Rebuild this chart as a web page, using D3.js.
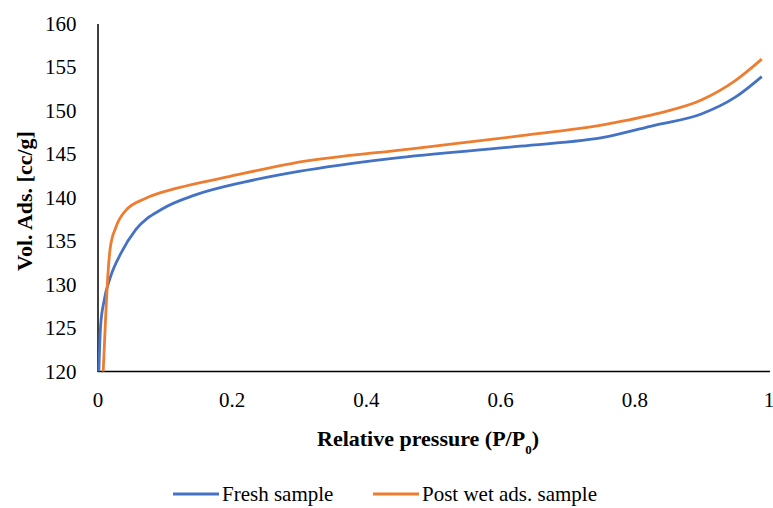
<!DOCTYPE html>
<html>
<head>
<meta charset="utf-8">
<script src="https://cdn.jsdelivr.net/npm/d3@7"></script>
<style>
  body { margin: 0; background: #fff; }
  text { font-family: "Liberation Serif", serif; fill: #000; }
</style>
</head>
<body>
<div id="chart"></div>
<script>
// Fresh sample isotherm
const freshP = [0.002, 0.0045, 0.01, 0.019, 0.035, 0.057, 0.097, 0.146, 0.22, 0.3, 0.44, 0.63, 0.76, 0.83, 0.9, 0.95, 0.99];
const freshV = [120, 125.1, 128.2, 130.8, 133.6, 136.3, 138.7, 140.3, 141.8, 143.0, 144.5, 145.9, 147.0, 148.3, 149.6, 151.5, 153.9];
// Post wet ads. sample isotherm
const wetP = [0.0085, 0.012, 0.0154, 0.019, 0.027, 0.042, 0.072, 0.12, 0.196, 0.289, 0.468, 0.632, 0.757, 0.832, 0.9, 0.95, 0.99];
const wetV = [120, 126, 131, 134.2, 136.5, 138.5, 139.9, 141.1, 142.4, 143.9, 145.6, 147.1, 148.4, 149.6, 151.2, 153.4, 155.9];

const xTicks = [0, 0.2, 0.4, 0.6, 0.8, 1];
const yTicks = [120, 125, 130, 135, 140, 145, 150, 155, 160];

const series = [
  { name: "Fresh sample", color: "#4472C4", p: freshP, v: freshV },
  { name: "Post wet ads. sample", color: "#ED7D31", p: wetP, v: wetV }
];

const width = 773, height = 508;
const svg = d3.select("#chart").append("svg")
  .attr("width", width)
  .attr("height", height);

const x = d3.scaleLinear().domain([0, 1]).range([97.5, 768.5]);
const y = d3.scaleLinear().domain([120, 160]).range([371.5, 23.5]);

// axes
const xAxis = svg.append("g")
  .attr("transform", `translate(0,${y(120)})`)
  .call(d3.axisBottom(x).tickValues(xTicks).tickSize(0).tickPadding(21)
    .tickFormat(d => d === 0 || d === 1 ? d : d.toFixed(1)));
xAxis.select(".domain").attr("stroke", "#000").attr("stroke-width", 1.5).attr("d", `M${x(0)},0H770`);
xAxis.selectAll("text").style("font-size", "21px").attr("font-family", null);

const yAxis = svg.append("g")
  .attr("transform", `translate(${x(0)},0)`)
  .call(d3.axisLeft(y).tickValues(yTicks).tickSize(0).tickPadding(21));
yAxis.select(".domain").attr("stroke", "#000").attr("stroke-width", 1.5);
yAxis.selectAll("text").style("font-size", "21px").attr("font-family", null);

// lines
const line = d3.line()
  .x(d => x(d[0]))
  .y(d => y(d[1]))
  .curve(d3.curveMonotoneX);

series.forEach(s => {
  svg.append("path")
    .datum(s.p.map((p, i) => [p, s.v[i]]))
    .attr("fill", "none")
    .attr("stroke", s.color)
    .attr("stroke-width", 2.8)
    .attr("d", line);
});

// axis titles
const xt = svg.append("text")
  .attr("x", 428)
  .attr("y", 446)
  .attr("text-anchor", "middle")
  .style("font-size", "22px")
  .style("font-weight", "bold");
xt.append("tspan").text("Relative pressure (P/P");
xt.append("tspan").attr("baseline-shift", "sub").style("font-size", "13px").text("0");
xt.append("tspan").text(")");

svg.append("text")
  .attr("transform", "translate(32,201) rotate(-90)")
  .attr("text-anchor", "middle")
  .style("font-size", "22px")
  .style("font-weight", "bold")
  .text("Vol. Ads. [cc/g]");

// legend
const legendX = [173, 373];
series.forEach((s, i) => {
  const g = svg.append("g").attr("transform", `translate(${legendX[i]},494)`);
  g.append("line").attr("x1", 0).attr("x2", 46).attr("y1", 0).attr("y2", 0)
    .attr("stroke", s.color).attr("stroke-width", 2.8);
  g.append("text").attr("x", 49).attr("y", 7).style("font-size", "21px").text(s.name);
});
</script>
</body>
</html>
